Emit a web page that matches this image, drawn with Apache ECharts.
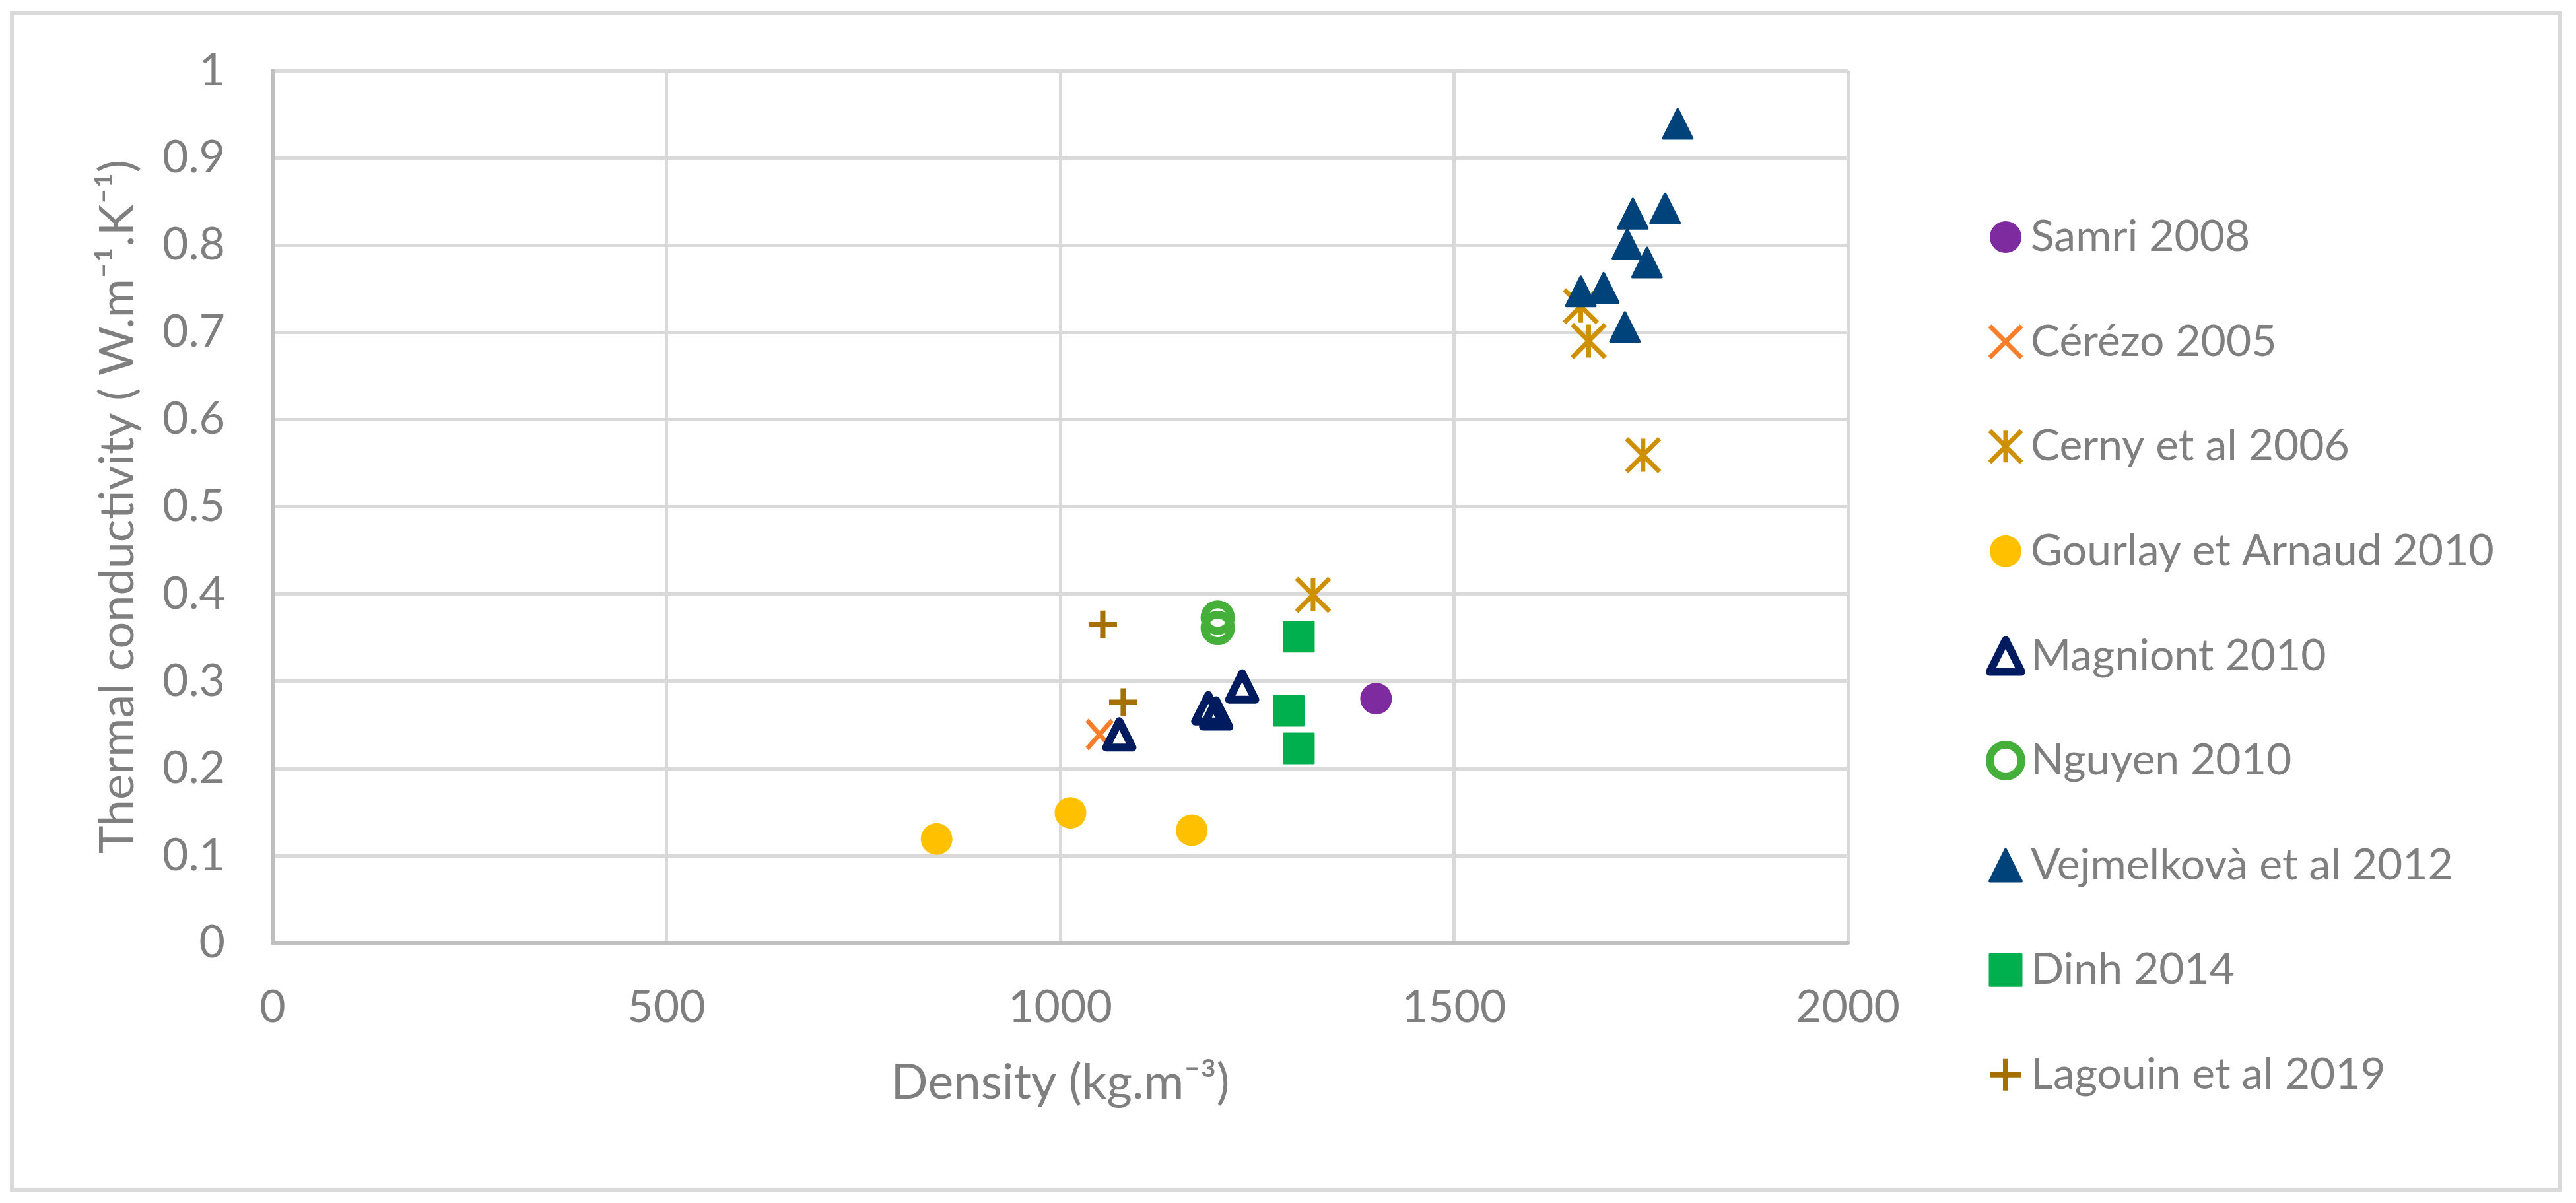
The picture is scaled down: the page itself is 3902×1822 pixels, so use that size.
<!DOCTYPE html>
<html>
<head>
<meta charset="utf-8">
<script src="https://cdn.jsdelivr.net/npm/echarts@6/dist/echarts.min.js"></script>
<style>
html,body{margin:0;padding:0;background:#fff;}
#chart{width:3902px;height:1822px;}
</style>
</head>
<body>
<div id="chart"></div>
<script>
// ---- data ----
const samriX = [1401];
const samriY = [0.280];
const cerezoX = [1050];
const cerezoY = [0.239];
const cernyX = [1661, 1671, 1740, 1321];
const cernyY = [0.730, 0.690, 0.559, 0.399];
const gourlayX = [843, 1013, 1167];
const gourlayY = [0.119, 0.149, 0.129];
const magniontX = [1075, 1188, 1198, 1231];
const magniontY = [0.239, 0.269, 0.263, 0.294];
const nguyenX = [1200, 1200];
const nguyenY = [0.373, 0.361];
const vejX = [1784, 1727, 1768, 1720, 1745, 1661, 1690, 1717];
const vejY = [0.939, 0.836, 0.842, 0.801, 0.780, 0.747, 0.751, 0.706];
const dinhX = [1303, 1290, 1303];
const dinhY = [0.351, 0.266, 0.223];
const lagouinX = [1054, 1080];
const lagouinY = [0.365, 0.276];

const seriesNames = ['Samri 2008', 'Cérézo 2005', 'Cerny et al 2006', 'Gourlay et Arnaud 2010',
  'Magniont 2010', 'Nguyen 2010', 'Vejmelkovà et al 2012', 'Dinh 2014', 'Lagouin et al 2019'];
const xTicks = { min: 0, max: 2000, interval: 500 };
const yTicks = { min: 0, max: 1, interval: 0.1 };

// ---- helpers ----
const pts = (xs, ys) => xs.map((x, i) => [x, ys[i]]);
const FONT = 'Lato, "Noto Sans", "DejaVu Sans", sans-serif';
const TXT = '#7F7F7F';

const X_PATH = 'path://M0,0 L10,10 M10,0 L0,10';
const STAR_PATH = 'path://M0,0 L10,10 M10,0 L0,10 M5,0 L5,10';
const PLUS_PATH = 'path://M5,0 L5,10 M0,5 L10,5';

const styles = [
  { symbol: 'circle', size: 48, item: { color: '#7F2BA0' } },
  { symbol: X_PATH, size: [38, 43], item: { color: 'transparent', borderColor: '#FA7D2A', borderWidth: 7 } },
  { symbol: STAR_PATH, size: [50, 50], item: { color: 'transparent', borderColor: '#CF9000', borderWidth: 7 } },
  { symbol: 'circle', size: 48, item: { color: '#FFC000' } },
  { symbol: 'triangle', size: 40, item: { color: 'transparent', borderColor: '#011B5F', borderWidth: 12, borderJoin: 'round' } },
  { symbol: 'circle', size: 40, item: { color: 'transparent', borderColor: '#44B03A', borderWidth: 12 } },
  { symbol: 'triangle', size: 44, item: { color: '#00437A', borderColor: '#00437A', borderWidth: 4, borderJoin: 'round' } },
  { symbol: 'rect', size: 45, item: { color: '#00B04F', borderColor: '#00B04F', borderWidth: 3, borderJoin: 'round' } },
  { symbol: PLUS_PATH, size: [43, 42], item: { color: 'transparent', borderColor: '#A67000', borderWidth: 8 } }
];
styles.forEach(s => { s.item.opacity = 1; });
const dataSets = [
  pts(samriX, samriY), pts(cerezoX, cerezoY), pts(cernyX, cernyY), pts(gourlayX, gourlayY),
  pts(magniontX, magniontY), pts(nguyenX, nguyenY), pts(vejX, vejY), pts(dinhX, dinhY),
  pts(lagouinX, lagouinY)
];

const series = seriesNames.map((name, i) => ({
  name: name,
  type: 'scatter',
  data: dataSets[i],
  symbol: styles[i].symbol,
  symbolSize: styles[i].size,
  itemStyle: styles[i].item,
  emphasis: { disabled: true },
  z: 2 + i
}));

const legendData = seriesNames.map((name, i) => ({
  name: name,
  itemStyle: Object.assign({}, styles[i].item)
}));

const chart = echarts.init(document.getElementById('chart'), null, { renderer: 'canvas' });
chart.setOption({
  animation: false,
  backgroundColor: '#ffffff',
  graphic: [{
    type: 'rect',
    shape: { x: 18, y: 19, width: 3860, height: 1783 },
    style: { fill: 'none', stroke: '#D9D9D9', lineWidth: 6 },
    z: -10, silent: true
  }],
  grid: {
    left: 413, top: 107, right: 1103, bottom: 394,
    containLabel: false, outerBoundsMode: 'none'
  },
  xAxis: {
    type: 'value',
    min: xTicks.min, max: xTicks.max, interval: xTicks.interval,
    name: 'Density (kg.m⁻³)',
    nameLocation: 'middle',
    nameGap: 175,
    nameTextStyle: { color: TXT, fontSize: 74, fontFamily: FONT },
    axisLine: { show: true, lineStyle: { color: '#BFBFBF', width: 6 } },
    axisTick: { show: false },
    axisLabel: { color: TXT, fontSize: 68, fontFamily: FONT, margin: 64, formatter: v => String(v) },
    splitLine: { show: true, lineStyle: { color: '#D9D9D9', width: 5 } }
  },
  yAxis: {
    type: 'value',
    min: yTicks.min, max: yTicks.max, interval: yTicks.interval,
    name: 'Thermal conductivity ( W.m⁻¹.K⁻¹)',
    nameLocation: 'middle',
    nameGap: 198,
    nameRotate: 90,
    nameTextStyle: { color: TXT, fontSize: 72, fontFamily: FONT },
    axisLine: { show: true, lineStyle: { color: '#BFBFBF', width: 6 } },
    axisTick: { show: false },
    axisLabel: { color: TXT, fontSize: 68, fontFamily: FONT, margin: 72, formatter: v => String(Math.round(v * 10) / 10) },
    splitLine: { show: true, lineStyle: { color: '#D9D9D9', width: 5 } }
  },
  legend: {
    orient: 'vertical',
    left: 3003, top: 321,
    itemWidth: 48, itemHeight: 48,
    itemGap: 92.6,
    selectedMode: false,
    data: legendData,
    textStyle: { color: TXT, fontSize: 66, fontFamily: FONT, lineHeight: 48, padding: [0, 0, 0, 9] }
  },
  series: series
});
</script>
</body>
</html>
